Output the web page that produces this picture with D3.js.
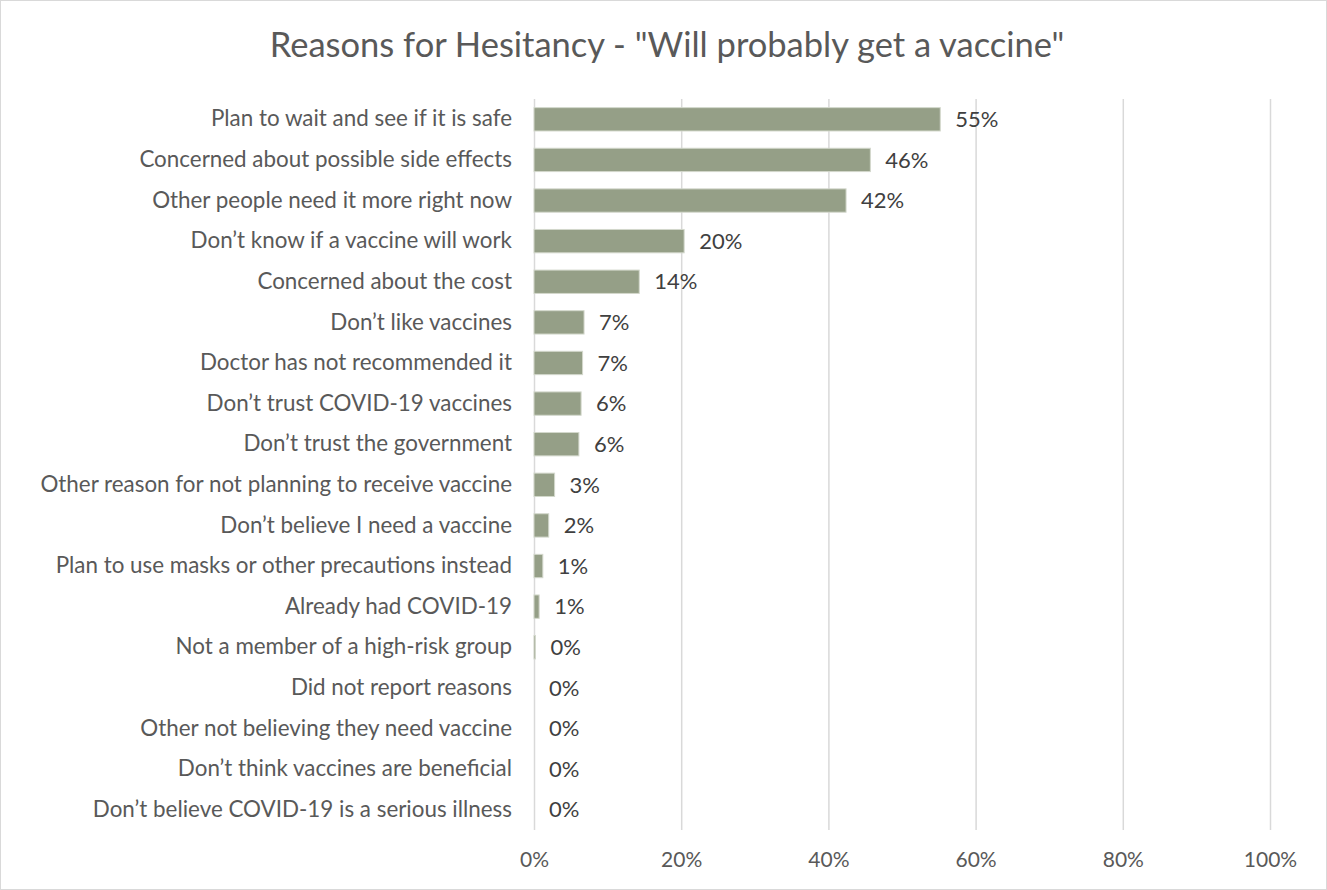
<!DOCTYPE html>
<html>
<head>
<meta charset="utf-8">
<script src="https://cdn.jsdelivr.net/npm/d3@7"></script>
<style>
  html, body { margin: 0; padding: 0; background: #fff; }
  svg { display: block; }
  text { font-family: Lato, "Noto Sans", sans-serif; }
</style>
</head>
<body>
<svg id="chart" width="1327" height="890"></svg>
<script>
// Reasons given by respondents who will probably get a vaccine (share of respondents)
const categories = [
  "Plan to wait and see if it is safe",
  "Concerned about possible side effects",
  "Other people need it more right now",
  "Don\u2019t know if a vaccine will work",
  "Concerned about the cost",
  "Don\u2019t like vaccines",
  "Doctor has not recommended it",
  "Don\u2019t trust COVID-19 vaccines",
  "Don\u2019t trust the government",
  "Other reason for not planning to receive vaccine",
  "Don\u2019t believe I need a vaccine",
  "Plan to use masks or other precautions instead",
  "Already had COVID-19",
  "Not a member of a high-risk group",
  "Did not report reasons",
  "Other not believing they need vaccine",
  "Don\u2019t think vaccines are beneficial",
  "Don\u2019t believe COVID-19 is a serious illness"
];
const shares = [0.552, 0.457, 0.424, 0.204, 0.143, 0.068, 0.066, 0.064, 0.061,
                0.028, 0.020, 0.012, 0.007, 0.002, 0, 0, 0, 0];
const xTicks = [0, 0.2, 0.4, 0.6, 0.8, 1.0];
const title = "Reasons for Hesitancy - \"Will probably get a vaccine\"";

const rows = categories.map((c, i) => ({ category: c, value: shares[i] }));

const W = 1327, H = 890;
const plot = { left: 534, right: 1270, top: 99, bottom: 830 };

const svg = d3.select("#chart");

// chart frame
svg.append("rect")
  .attr("x", 0.5).attr("y", 0.5)
  .attr("width", W - 1).attr("height", H - 1)
  .attr("fill", "#fff").attr("stroke", "#d9d9d9").attr("stroke-width", 1);

const x = d3.scaleLinear().domain([0, 1]).range([plot.left, plot.right]);
const y = d3.scaleBand().domain(categories)
  .range([plot.top, plot.bottom])
  .paddingInner(0.425).paddingOuter(0.2125);

const pct = d3.format(".0%");

// vertical gridlines
const grid = svg.append("g")
  .attr("transform", `translate(0,${plot.bottom})`)
  .call(d3.axisBottom(x).tickValues(xTicks).tickSize(-(plot.bottom - plot.top)).tickFormat(""));
grid.select(".domain").remove();
grid.selectAll("line").attr("stroke", "#d9d9d9").attr("stroke-width", 1.5);

// x axis labels
const xAxis = svg.append("g")
  .attr("transform", `translate(0,${plot.bottom})`)
  .call(d3.axisBottom(x).tickValues(xTicks).tickSize(0).tickPadding(22).tickFormat(pct));
xAxis.select(".domain").remove();
xAxis.selectAll("text")
  .attr("fill", "#595959")
  .style("font-size", "21px")
  .style("font-family", "Lato, 'Noto Sans', sans-serif");

// category axis
const yAxis = svg.append("g")
  .attr("transform", `translate(${plot.left},0)`)
  .call(d3.axisLeft(y).tickSize(0).tickPadding(22));
yAxis.select(".domain").remove();
yAxis.selectAll("text")
  .attr("fill", "#595959")
  .style("font-size", "22.4px")
  .style("font-family", "Lato, 'Noto Sans', sans-serif");

// bars
svg.append("g").selectAll("rect")
  .data(rows)
  .join("rect")
  .attr("x", x(0))
  .attr("y", d => y(d.category))
  .attr("width", d => x(d.value) - x(0))
  .attr("height", y.bandwidth())
  .attr("fill", "#959f87")
  .attr("stroke", "#d3d8cc")
  .attr("stroke-width", 1);

// value labels
svg.append("g").selectAll("text")
  .data(rows)
  .join("text")
  .attr("x", d => x(d.value) + 15)
  .attr("y", d => y(d.category) + y.bandwidth() / 2)
  .attr("dy", "0.35em")
  .attr("fill", "#404040")
  .style("font-size", "22px")
  .text(d => pct(d.value));

// title
svg.append("text")
  .attr("x", 667)
  .attr("y", 57)
  .attr("text-anchor", "middle")
  .attr("fill", "#595959")
  .style("font-size", "34.5px")
  .text(title);
</script>
</body>
</html>
